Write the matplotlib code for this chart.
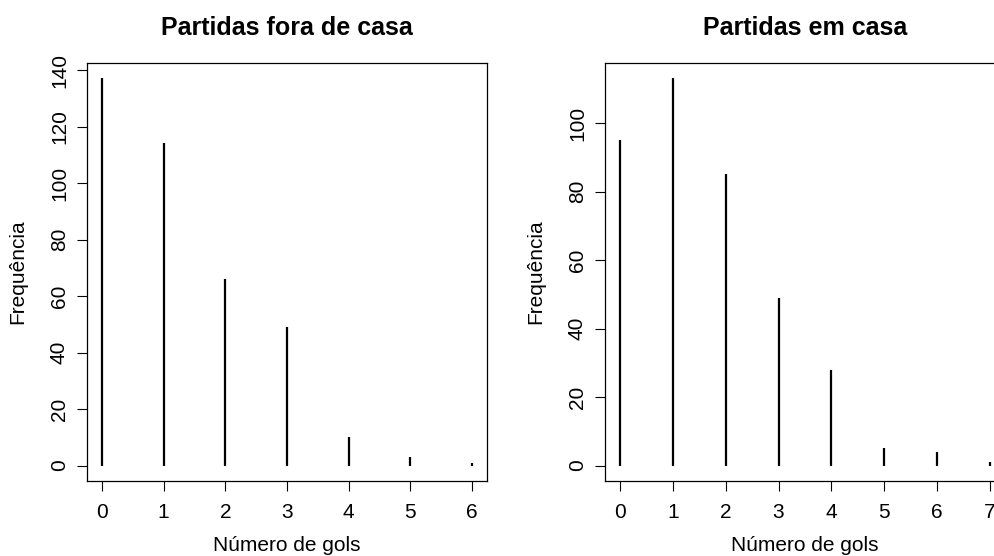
import matplotlib
matplotlib.use("Agg")
import matplotlib.pyplot as plt
import numpy as np

plt.rcParams['font.family'] = ['Liberation Sans', 'DejaVu Sans']

# dados
gols_fora = [0, 1, 2, 3, 4, 5, 6]
freq_fora = [137, 114, 66, 49, 10, 3, 1]
gols_casa = [0, 1, 2, 3, 4, 5, 6, 7]
freq_casa = [95, 113, 85, 49, 28, 5, 4, 1]

titulos = ["Partidas fora de casa", "Partidas em casa"]
yticks_fora = [0, 20, 40, 60, 80, 100, 120, 140]
yticks_casa = [0, 20, 40, 60, 80, 100]

fig = plt.figure(figsize=(9.95, 5.56), dpi=100)
W, H = 995, 556

def painel(left, x, y, titulo, yticks):
    ax = fig.add_axes([left / W, 1 - 481 / H, 400 / W, 418 / H])
    ax.vlines(x, 0, y, colors='black', linewidth=1.6)
    # limites como no R (4% de folga)
    xr = max(x) - min(x)
    yr = max(y)
    ax.set_xlim(min(x) - 0.04 * xr, max(x) + 0.04 * xr)
    ax.set_ylim(-0.04 * yr, yr * 1.04)
    ax.set_xticks(x)
    ax.set_yticks(yticks)
    ax.tick_params(direction='out', length=7, width=0.8, labelsize=15)
    ax.tick_params(axis='x', pad=9)
    ax.tick_params(axis='y', pad=6)
    for lab in ax.get_yticklabels():
        lab.set_rotation(90)
        lab.set_va('center')
    for s in ax.spines.values():
        s.set_linewidth(0.9)
    ax.set_title(titulo, fontsize=18, fontweight='bold', pad=20)
    ax.set_xlabel("Número de gols", fontsize=15, labelpad=10)
    ax.set_ylabel("Frequência", fontsize=15, labelpad=16)
    return ax

painel(87, gols_fora, freq_fora, titulos[0], yticks_fora)
painel(605, gols_casa, freq_casa, titulos[1], yticks_casa)

fig.savefig("out.png", dpi=100)
